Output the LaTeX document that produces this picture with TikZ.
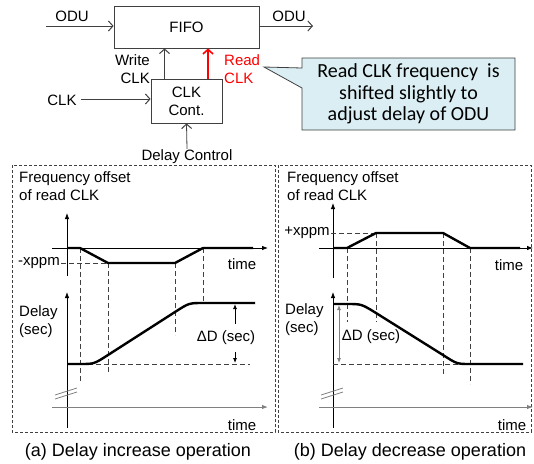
\documentclass[tikz,border=0pt]{standalone}
\usepackage{fontspec}
\setmainfont{Liberation Sans}
\newfontfamily\notefont{Carlito}
\usepackage{xcolor}
\usepackage{tikz}
\usetikzlibrary{arrows.meta, shapes.callouts}
\definecolor{noteblue}{HTML}{DAEEF3}
\definecolor{lightline}{HTML}{808080}
\definecolor{darkline}{HTML}{404040}

\begin{document}
\begin{tikzpicture}[
		x = 1pt, y = -1pt,
		lbl/.style      = {inner sep=1pt, font=\fontsize{15}{18}\selectfont},
		caption/.style  = {inner sep=1pt, font=\fontsize{18}{20}\selectfont},
		blockbox/.style = {draw=darkline, line width=0.8pt, align=center, lbl},
		sig/.style      = {draw=darkline, line width=0.8pt, -{Straight Barb[length=4.5pt, width=10pt, line width=1pt]}},
		readsig/.style  = {draw=red, line width=1.6pt, -{Straight Barb[length=4.5pt, width=10pt]}},
		note/.style     = {rectangle callout, draw=darkline, fill=noteblue, line width=0.8pt,
			align=center, font=\notefont\fontsize{20}{21.5}\selectfont},
		panel/.style    = {draw=darkline, line width=0.6pt, dash pattern=on 3pt off 2pt},
		axis/.style     = {line width=0.8pt, -{Latex[length=6pt, width=4.5pt]}},
		timeaxis/.style = {draw=lightline, line width=1pt, -{Latex[length=6pt, width=4.5pt]}},
		curve/.style    = {line width=2.4pt},
		guide/.style    = {draw=darkline, line width=0.6pt, dash pattern=on 5pt off 3pt},
		delta/.style    = {line width=0.8pt, -{Latex[length=5pt, width=4pt]}},
		brk/.style      = {draw=lightline, line width=0.8pt}
	]
	\useasboundingbox (0,0) rectangle (534,463);

	\node [blockbox, minimum width=145pt, minimum height=42pt] (fifo) at (186.5,27) {FIFO};
	\node [blockbox, minimum width=71pt, minimum height=44pt] (clkcont) at (186.5,101) {CLK\\Cont.};
	\coordinate (oduin) at (46,26);
	\coordinate (oduout) at (313,26);
	\node [lbl] (oduinlbl) at (72,16) {ODU};
	\node [lbl] (oduoutlbl) at (289,16) {ODU};
	\node [lbl, anchor=east, align=right] (writelbl) at (151,69) {Write\\CLK};
	\node [lbl, anchor=west, align=left, text=red] (readlbl) at (223,69) {Read\\CLK};
	\node [lbl] (clklbl) at (62,100) {CLK};
	\node [lbl] (delaylbl) at (187,157) {Delay Control};
	\draw [sig] (oduin) -- (fifo.west |- oduin);
	\draw [sig] (fifo.east |- oduout) -- (oduout);
	\draw [sig] ([xshift=-22pt]clkcont.north) -- ([xshift=-22pt]clkcont.north |- fifo.south);
	\draw [readsig] ([xshift=21.5pt]clkcont.north) -- ([xshift=21.5pt]clkcont.north |- fifo.south);
	\draw [sig] (clklbl.east) ++(3pt,1pt) coordinate (clkin) -- (clkcont.west |- clkin);
	\draw [sig] (delaylbl.north) -- (clkcont.south);
	\node [note, minimum width=213pt, minimum height=72pt, callout absolute pointer={(264,67)},
		callout pointer width=20pt] (callout) at (408.5,94)
		{Read CLK frequency \ is\\shifted slightly to\\adjust delay of ODU};

	\draw [panel] (12,165) rectangle (275,432);
	\draw [panel] (278,165) rectangle (531,432);

	\node [lbl, anchor=west, align=left] (freqa) at (18,186) {Frequency offset\\of read CLK};
	\node [lbl] (xppma) at (39,263) {-xppm};
	\node [lbl] (timea) at (242,264) {time};
	\node [lbl, anchor=west, align=left] (delaya) at (18,322) {Delay\\(sec)};
	\node [lbl] (dda) at (226,338) {ΔD (sec)};
	\node [lbl] (timeb) at (242,425) {time};
	\node [caption] (capa) at (138,452) {(a) Delay increase operation};
	\draw [axis] (67,276) -- (67,213);
	\draw [axis] (52,248) -- (268,248);
	\draw [guide] (xppma.east) -- (108,263);
	\draw [guide] (80,248) -- (80,382);
	\draw [guide] (108,263) -- (108,373);
	\draw [guide] (175,263) -- (175,335);
	\draw [guide] (203,248) -- (203,303);
	\draw [curve] (67,248) -- (80,248) -- (108,263) -- (175,263) -- (203,248) -- (253,248);
	\draw [axis] (67,428) -- (67,292);
	\draw [timeaxis] (52,407) -- (268,407);
	\draw [brk] (55,395) -- (77,388);
	\draw [brk] (55,399) -- (77,392);
	\draw [guide] (80,364) -- (250,364);
	\draw [curve] (67,364) -- (80,364) .. controls (94,364) .. (108,355) -- (175,312)
		.. controls (189,303) .. (203,303) -- (255,303);
	\draw [delta] (dda.north -| 235,0) ++(0,-6) -- (235,304);
	\draw [delta] (dda.south -| 235,0) ++(0,6) -- (235,363);

	\node [lbl, anchor=west, align=left] (freqb) at (286,186) {Frequency offset\\of read CLK};
	\node [lbl] (xppmb) at (307,233) {+xppm};
	\node [lbl] (timec) at (509,265) {time};
	\node [lbl, anchor=west, align=left] (delayb) at (284,320) {Delay\\(sec)};
	\node [lbl] (ddb) at (371,337) {ΔD (sec)};
	\node [lbl] (timed) at (512,425) {time};
	\node [caption] (capb) at (410,452) {(b) Delay decrease operation};
	\draw [axis] (333,278) -- (333,203);
	\draw [axis] (319,248) -- (533,248);
	\draw [guide] (xppmb.east) -- (376,233);
	\draw [guide] (347,248) -- (347,322);
	\draw [guide] (376,233) -- (376,322);
	\draw [guide] (443,233) -- (443,375);
	\draw [guide] (470,248) -- (470,384);
	\draw [curve] (333,248) -- (347,248) -- (376,233) -- (443,233) -- (470,248) -- (520,248);
	\draw [axis] (333,428) -- (333,292);
	\draw [timeaxis] (319,407) -- (533,407);
	\draw [brk] (321,395) -- (343,388);
	\draw [brk] (321,399) -- (343,392);
	\draw [guide] (333,364) -- (470,364);
	\draw [curve] (333,304) -- (347,304) .. controls (361.5,304) .. (376,313) -- (443,355)
		.. controls (457,364) .. (470,364) -- (523,364);
	\draw [line width=0.8pt, draw=lightline, {Latex[length=5pt, width=4pt]}-{Latex[length=5pt, width=4pt]}]
		(339,305) -- (339,363);
\end{tikzpicture}
\end{document}
